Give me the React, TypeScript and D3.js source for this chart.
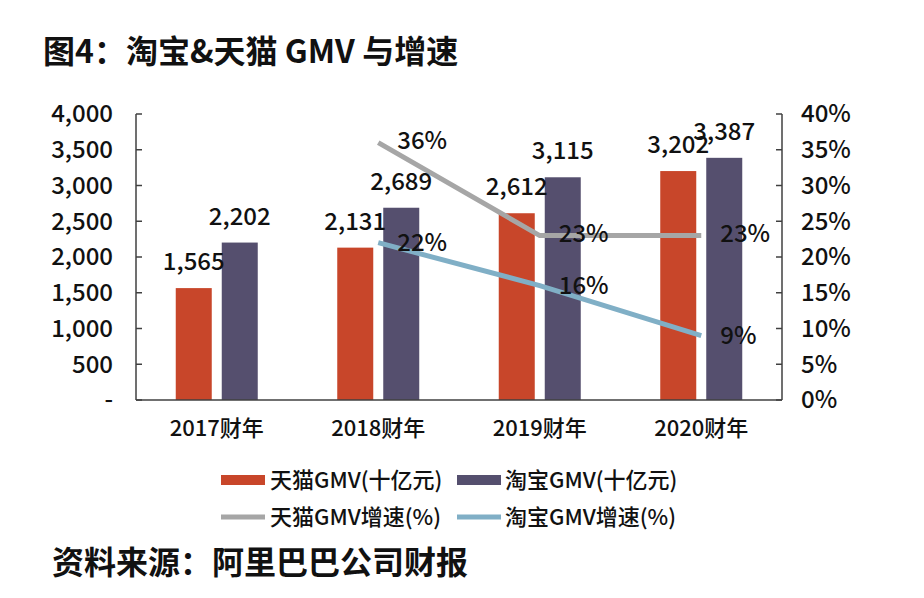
import React from "react";
import * as d3 from "d3";

const categories = ["2017财年", "2018财年", "2019财年", "2020财年"];
const tmallGMV = [1565, 2131, 2612, 3202];
const taobaoGMV = [2202, 2689, 3115, 3387];
const tmallGrowth: (number | null)[] = [null, 0.36, 0.23, 0.23];
const taobaoGrowth: (number | null)[] = [null, 0.22, 0.16, 0.09];
const leftTicks = [0, 500, 1000, 1500, 2000, 2500, 3000, 3500, 4000];
const rightTicks = [0, 0.05, 0.1, 0.15, 0.2, 0.25, 0.3, 0.35, 0.4];
const legendLabels = ["天猫GMV(十亿元)", "淘宝GMV(十亿元)", "天猫GMV增速(%)", "淘宝GMV增速(%)"];
const title = "图4：淘宝&天猫 GMV 与增速";
const source = "资料来源：阿里巴巴公司财报";

const C_TMALL = "#C8462A";
const C_TAOBAO = "#554F6E";
const C_GRAY = "#A6A6A6";
const C_BLUE = "#80AFC6";
const FONT = "'Noto Sans CJK SC', 'Noto Sans', sans-serif";
const FW = 500;

export default function App() {
  const W = 924, H = 598;
  const left = 136, right = 782, top = 114, bottom = 400;
  const x = d3.scaleBand().domain(categories).range([left, right]).paddingInner(0).paddingOuter(0);
  const yL = d3.scaleLinear().domain([0, 4000]).range([bottom, top]);
  const yR = d3.scaleLinear().domain([0, 0.4]).range([bottom, top]);
  const barW = 36, gap = 10;
  const fmt = d3.format(",");
  const lineGen = d3.line<[number, number]>().x(d => d[0]).y(d => d[1]);
  const pts = (arr: (number | null)[]) =>
    arr.map((v, i) => v == null ? null : [x(categories[i])! + x.bandwidth() / 2, yR(v)] as [number, number])
      .filter(Boolean) as [number, number][];
  const tmallPts = pts(tmallGrowth);
  const taobaoPts = pts(taobaoGrowth);

  return (
    <svg width={W} height={H} style={{ position: "absolute", left: 0, top: 0, background: "#fff", fontFamily: FONT }}>
      <rect width={W} height={H} fill="#fff" />
      <text x={43} y={63} fontSize={32} fontWeight="bold" fill="#111">{title}</text>

      {/* bars */}
      {categories.map((c, i) => {
        const cx = x(c)! + x.bandwidth() / 2;
        const x1 = cx - gap / 2 - barW, x2 = cx + gap / 2;
        return (
          <g key={c}>
            <rect x={x1} y={yL(tmallGMV[i])} width={barW} height={bottom - yL(tmallGMV[i])} fill={C_TMALL} />
            <rect x={x2} y={yL(taobaoGMV[i])} width={barW} height={bottom - yL(taobaoGMV[i])} fill={C_TAOBAO} />
          </g>
        );
      })}

      {/* axes */}
      <g stroke="#404040" strokeWidth={1.5}>
        <line x1={left} y1={top} x2={left} y2={bottom} />
        <line x1={right} y1={top} x2={right} y2={bottom} />
        <line x1={left} y1={bottom} x2={right} y2={bottom} />
        {leftTicks.map(t => <line key={"l" + t} x1={left} x2={left + 6} y1={yL(t)} y2={yL(t)} />)}
        {rightTicks.map(t => <line key={"r" + t} x1={right - 6} x2={right} y1={yR(t)} y2={yR(t)} />)}
      </g>
      {leftTicks.map(t => (
        <text key={"lt" + t} x={113} y={yL(t)} dy="0.35em" textAnchor="end" fontSize={24} fontWeight={FW} fill="#111">
          {t === 0 ? "-" : fmt(t)}
        </text>
      ))}
      {rightTicks.map(t => (
        <text key={"rt" + t} x={801} y={yR(t)} dy="0.35em" fontSize={24} fontWeight={FW} fill="#111">
          {Math.round(t * 100) + "%"}
        </text>
      ))}
      {categories.map(c => (
        <text key={"c" + c} x={x(c)! + x.bandwidth() / 2} y={428} dy="0.35em" textAnchor="middle" fontSize={22} fontWeight={FW} fill="#111">{c}</text>
      ))}

      {/* lines */}
      <path d={lineGen(tmallPts)!} fill="none" stroke={C_GRAY} strokeWidth={5} />
      <path d={lineGen(taobaoPts)!} fill="none" stroke={C_BLUE} strokeWidth={5} />

      {/* bar labels */}
      {categories.map((c, i) => {
        const cx = x(c)! + x.bandwidth() / 2;
        return (
          <g key={"bl" + c} fontSize={24} fontWeight={FW} fill="#111" textAnchor="middle">
            <text x={cx - gap / 2 - barW / 2} y={yL(tmallGMV[i]) - 18}>{fmt(tmallGMV[i])}</text>
            <text x={cx + gap / 2 + barW / 2} y={yL(taobaoGMV[i]) - 18}>{fmt(taobaoGMV[i])}</text>
          </g>
        );
      })}
      {/* line labels */}
      {tmallGrowth.map((v, i) => v == null ? null : (
        <text key={"tg" + i} x={x(categories[i])! + x.bandwidth() / 2 + 19} y={yR(v) - 2} dy="0.35em" fontSize={24} fontWeight={FW} fill="#111">
          {Math.round(v * 100) + "%"}
        </text>
      ))}
      {taobaoGrowth.map((v, i) => v == null ? null : (
        <text key={"bg" + i} x={x(categories[i])! + x.bandwidth() / 2 + 19} y={yR(v)} dy="0.35em" fontSize={24} fontWeight={FW} fill="#111">
          {Math.round(v * 100) + "%"}
        </text>
      ))}

      {/* legend */}
      <g fontSize={22} fontWeight={FW} fill="#111">
        <rect x={221} y={475} width={44} height={10} fill={C_TMALL} />
        <text x={270} y={480} dy="0.35em">{legendLabels[0]}</text>
        <rect x={457} y={475} width={44} height={10} fill={C_TAOBAO} />
        <text x={505} y={480} dy="0.35em">{legendLabels[1]}</text>
        <line x1={221} x2={265} y1={517} y2={517} stroke={C_GRAY} strokeWidth={5} />
        <text x={270} y={517} dy="0.35em">{legendLabels[2]}</text>
        <line x1={457} x2={501} y1={517} y2={517} stroke={C_BLUE} strokeWidth={5} />
        <text x={505} y={517} dy="0.35em">{legendLabels[3]}</text>
      </g>

      <text x={52} y={574} fontSize={32} fontWeight="bold" fill="#111">{source}</text>
    </svg>
  );
}
